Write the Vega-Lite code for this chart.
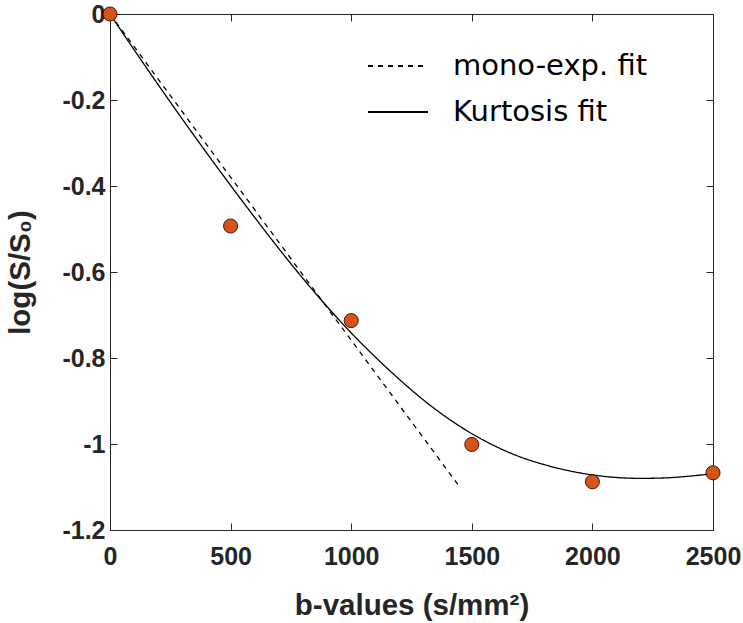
{
  "$schema": "https://vega.github.io/schema/vega-lite/v6.json",
  "autosize": "none",
  "width": 603,
  "height": 516,
  "padding": {"left": 110, "top": 14, "right": 30, "bottom": 93},
  "background": "white",
  "config": {
    "view": {"stroke": null},
    "axis": {
      "grid": false,
      "domainColor": "#262626",
      "tickColor": "#262626",
      "domainWidth": 1,
      "tickWidth": 1,
      "labelFont": "Liberation Sans",
      "labelFontWeight": "bold",
      "labelFontSize": 25,
      "labelColor": "#262626",
      "titleFont": "Liberation Sans",
      "titleFontWeight": "bold",
      "titleFontSize": 29.5,
      "titleColor": "#262626",
      "labelOverlap": false,
      "labelBound": false,
      "labelFlush": false
    }
  },
  "datasets": {
    "fits": [
      {"b": 0, "logS": 0, "series": "mono-exp. fit"},
      {"b": 1450, "logS": -1.1, "series": "mono-exp. fit"},
      {"b": 0, "logS": 0, "series": "Kurtosis fit"},
      {"b": 100, "logS": -0.0832, "series": "Kurtosis fit"},
      {"b": 200, "logS": -0.1647, "series": "Kurtosis fit"},
      {"b": 300, "logS": -0.2445, "series": "Kurtosis fit"},
      {"b": 400, "logS": -0.3225, "series": "Kurtosis fit"},
      {"b": 500, "logS": -0.3987, "series": "Kurtosis fit"},
      {"b": 600, "logS": -0.4731, "series": "Kurtosis fit"},
      {"b": 700, "logS": -0.5457, "series": "Kurtosis fit"},
      {"b": 800, "logS": -0.6151, "series": "Kurtosis fit"},
      {"b": 900, "logS": -0.6804, "series": "Kurtosis fit"},
      {"b": 1000, "logS": -0.7416, "series": "Kurtosis fit"},
      {"b": 1100, "logS": -0.7978, "series": "Kurtosis fit"},
      {"b": 1200, "logS": -0.8499, "series": "Kurtosis fit"},
      {"b": 1300, "logS": -0.8979, "series": "Kurtosis fit"},
      {"b": 1400, "logS": -0.9399, "series": "Kurtosis fit"},
      {"b": 1500, "logS": -0.9759, "series": "Kurtosis fit"},
      {"b": 1600, "logS": -1.0059, "series": "Kurtosis fit"},
      {"b": 1700, "logS": -1.0299, "series": "Kurtosis fit"},
      {"b": 1800, "logS": -1.0479, "series": "Kurtosis fit"},
      {"b": 1900, "logS": -1.0619, "series": "Kurtosis fit"},
      {"b": 2000, "logS": -1.0719, "series": "Kurtosis fit"},
      {"b": 2100, "logS": -1.0779, "series": "Kurtosis fit"},
      {"b": 2200, "logS": -1.0799, "series": "Kurtosis fit"},
      {"b": 2300, "logS": -1.0789, "series": "Kurtosis fit"},
      {"b": 2400, "logS": -1.0749, "series": "Kurtosis fit"},
      {"b": 2500, "logS": -1.0689, "series": "Kurtosis fit"}
    ],
    "measured": [
      {"b": 0, "logS": 0},
      {"b": 500, "logS": -0.493},
      {"b": 1000, "logS": -0.713},
      {"b": 1500, "logS": -1.001},
      {"b": 2000, "logS": -1.088},
      {"b": 2500, "logS": -1.067}
    ]
  },
  "resolve": {"axis": {"x": "independent", "y": "independent"}},
  "layer": [
    {
      "data": {"name": "fits"},
      "mark": {"type": "line", "color": "black", "strokeWidth": 1.3, "interpolate": "monotone"},
      "encoding": {
        "x": {
          "field": "b", "type": "quantitative",
          "scale": {"domain": [0, 2500], "nice": false, "zero": false},
          "axis": {"orient": "bottom", "values": [0, 500, 1000, 1500, 2000, 2500], "format": "d", "tickSize": -7, "labelPadding": 21, "title": "b-values (s/mm²)", "titlePadding": 22}
        },
        "y": {
          "field": "logS", "type": "quantitative",
          "scale": {"domain": [-1.2, 0], "nice": false, "zero": false},
          "axis": {"orient": "left", "values": [0, -0.2, -0.4, -0.6, -0.8, -1, -1.2], "tickSize": -7, "labelPadding": 12, "labelExpr": "datum.value == 0 ? '0' : '-' + format(abs(datum.value), '~g')", "title": "log(S/S₀)", "titlePadding": 26}
        },
        "detail": {"field": "series"},
        "strokeDash": {
          "field": "series", "type": "nominal",
          "scale": {"domain": ["mono-exp. fit", "Kurtosis fit"], "range": [[5, 5], [1, 0]]},
          "legend": {
            "orient": "none", "legendX": 272, "legendY": 36, "title": null,
            "symbolType": "M-2,0L2,0", "symbolSize": 900, "symbolStrokeWidth": 1.8,
            "symbolStrokeColor": "black",
            "labelFont": "DejaVu Sans", "labelFontSize": 29, "labelColor": "black", "labelLimit": 500,
            "labelOffset": 39, "rowPadding": 15
          }
        }
      }
    },
    {
      "data": {"name": "measured"},
      "mark": {"type": "point", "shape": "circle", "filled": true, "fill": "#D95319", "stroke": "black", "strokeWidth": 0.8, "size": 200, "opacity": 1},
      "encoding": {
        "x": {
          "field": "b", "type": "quantitative",
          "scale": {"domain": [0, 2500], "nice": false, "zero": false},
          "axis": {"orient": "top", "values": [0, 500, 1000, 1500, 2000, 2500], "tickSize": -7, "labels": false, "title": null}
        },
        "y": {
          "field": "logS", "type": "quantitative",
          "scale": {"domain": [-1.2, 0], "nice": false, "zero": false},
          "axis": {"orient": "right", "values": [0, -0.2, -0.4, -0.6, -0.8, -1, -1.2], "tickSize": -7, "labels": false, "title": null}
        }
      }
    }
  ]
}
